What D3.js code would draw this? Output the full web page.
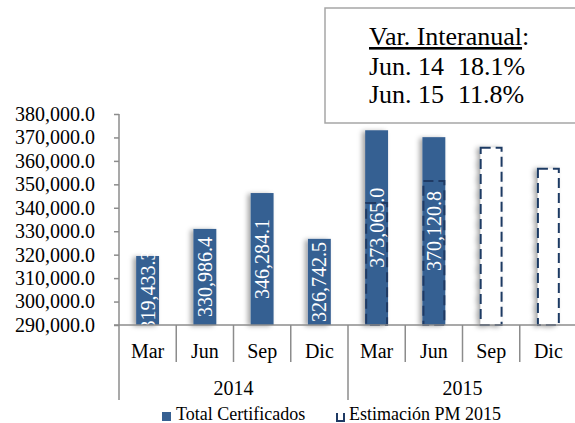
<!DOCTYPE html>
<html><head><meta charset="utf-8">
<script src="https://cdn.jsdelivr.net/npm/d3@7"></script>
<style>html,body{margin:0;padding:0;background:#fff;}svg{display:block;}
svg text{font-family:"Liberation Serif","DejaVu Serif","Times New Roman",serif;}</style>
</head><body>
<svg id="c" width="575" height="423"></svg>
<script>
const months = ["Mar","Jun","Sep","Dic","Mar","Jun","Sep","Dic"];
const years = ["2014","2015"];
const totalCert = [319433.3, 330986.4, 346284.1, 326742.5, 373065.0, 370120.8, null, null];
const estimacion = [null, null, null, null, 342000, 351400, 365600, 356600];
const yTicks = [290000,300000,310000,320000,330000,340000,350000,360000,370000,380000];
const boxTitle = "Var. Interanual";
const boxRows = [["Jun. 14","18.1%"],["Jun. 15","11.8%"]];
const legendLabels = ["Total Certificados","Estimación PM 2015"];

(function(){
const svg = d3.select("#c");
const pL = 119, pR = 577, pT = 114, pB = 325;
const barColor = "#366092", dashColor = "#1F3A64", axisColor = "#8c8c8c";

const defs = svg.append("defs");
const f = defs.append("filter").attr("id","sh").attr("x","-50%").attr("y","-20%").attr("width","200%").attr("height","140%");
f.append("feDropShadow").attr("dx",-3).attr("dy",1).attr("stdDeviation",2.5).attr("flood-color","#000").attr("flood-opacity",0.35);
defs.append("clipPath").attr("id","plotclip").append("rect").attr("x",pL).attr("y",0).attr("width",pR-pL).attr("height",pB);

const idx = d3.range(months.length);
const x = d3.scaleBand().domain(idx).range([pL,pR]).padding(0);
const y = d3.scaleLinear().domain([290000,380000]).range([pB,pT]);
const bw = x.bandwidth()*0.4;
const bx = i => x(i) + x.bandwidth()/2 - bw/2;

// y axis
const yAxis = d3.axisLeft(y).tickValues(yTicks).tickFormat(d3.format(",.1f")).tickSize(5).tickPadding(19);
const ga = svg.append("g").attr("transform",`translate(${pL},0)`).call(yAxis);
ga.attr("font-family",null);
ga.select(".domain").remove();
ga.selectAll(".tick line").attr("stroke",axisColor).attr("stroke-width",1.5);
ga.selectAll(".tick text").attr("font-size",20).attr("fill","#000");
svg.append("line").attr("x1",pL).attr("x2",pL).attr("y1",pT).attr("y2",400).attr("stroke",axisColor).attr("stroke-width",1.5);

// bars
const gb = svg.append("g");
idx.forEach(i=>{
  if(totalCert[i]!=null){
    gb.append("rect").attr("x",bx(i)).attr("y",y(totalCert[i])).attr("width",bw).attr("height",pB-y(totalCert[i]))
      .attr("fill",barColor).attr("filter","url(#sh)");
  }
});
idx.forEach(i=>{
  if(estimacion[i]!=null){
    gb.append("rect").attr("x",bx(i)+1).attr("y",y(estimacion[i])).attr("width",bw-2).attr("height",pB-y(estimacion[i]))
      .attr("fill",totalCert[i]!=null?"none":"#fff").attr("stroke",dashColor).attr("stroke-width",2)
      .attr("stroke-dasharray","10,5").attr("filter",totalCert[i]!=null?null:"url(#sh)");
  }
});
// labels
const gl = svg.append("g").attr("clip-path","url(#plotclip)");
idx.forEach(i=>{
  if(totalCert[i]!=null){
    const cy = (y(totalCert[i])+pB)/2;
    const cx = x(i)+x.bandwidth()/2;
    gl.append("text").attr("transform",`translate(${cx},${cy}) rotate(-90)`)
      .attr("text-anchor","middle").attr("dominant-baseline","central")
      .attr("font-size",20).attr("fill","#fff")
      .text(d3.format(",.1f")(totalCert[i]));
  }
});

// x axis
svg.append("line").attr("x1",pL-5).attr("x2",pR).attr("y1",pB).attr("y2",pB).attr("stroke",axisColor).attr("stroke-width",1.5);
idx.forEach(i=>{
  const xb = x(i)+x.bandwidth();
  const long = (i===3);
  svg.append("line").attr("x1",xb).attr("x2",xb).attr("y1",pB).attr("y2",long?400:362).attr("stroke",axisColor).attr("stroke-width",1.5);
  svg.append("text").attr("x",x(i)+x.bandwidth()/2).attr("y",358).attr("text-anchor","middle")
    .attr("font-size",20).attr("fill","#000").text(months[i]);
});
years.forEach((yr,k)=>{
  const x0 = x(k*4), x1 = x(k*4+3)+x.bandwidth();
  svg.append("text").attr("x",(x0+x1)/2).attr("y",395).attr("text-anchor","middle")
    .attr("font-size",20).attr("fill","#000").text(yr);
});

// legend
svg.append("rect").attr("x",162).attr("y",412).attr("width",9).attr("height",9).attr("fill",barColor);
svg.append("text").attr("x",176).attr("y",420).attr("font-size",18).text(legendLabels[0]);
svg.append("path").attr("d","M337,413 V421 H344 V413").attr("fill","none").attr("stroke",dashColor).attr("stroke-width",2);
svg.append("text").attr("x",349).attr("y",420).attr("font-size",18).text(legendLabels[1]);

// text box
svg.append("rect").attr("x",325).attr("y",8).attr("width",270).attr("height",115).attr("fill","#fff").attr("stroke","#a6a6a6").attr("stroke-width",1.5);
const t1 = svg.append("text").attr("x",369).attr("y",45).attr("font-size",26);
t1.append("tspan").attr("text-decoration","underline").text(boxTitle);
t1.append("tspan").text(":");
boxRows.forEach((r,k)=>{
  svg.append("text").attr("x",369).attr("y",75+k*28).attr("font-size",26).text(r[0]);
  svg.append("text").attr("x",458).attr("y",75+k*28).attr("font-size",26).text(r[1]);
});
})();
</script>
</body></html>
